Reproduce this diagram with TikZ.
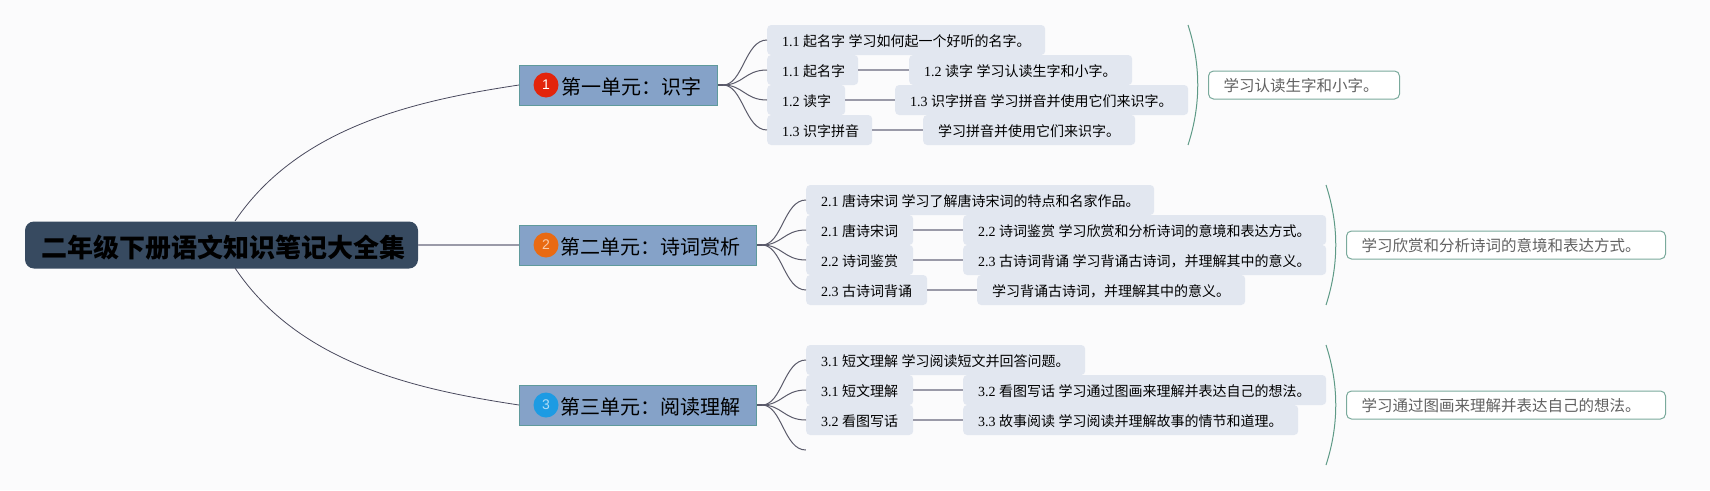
\documentclass[tikz,border=0pt]{standalone}
\usepackage{fontspec}
\setmainfont{Liberation Serif}
\newfontfamily\cjk{Noto Sans CJK SC}
\newfontfamily\digitfont{Liberation Sans}
\newcommand{\nr}[1]{{\rmfamily #1}\kern3.5pt}
\newcommand{\gap}{\kern3.5pt}
\definecolor{paper}{HTML}{FBFBFC}
\definecolor{rootfill}{HTML}{374A60}
\definecolor{unitfill}{HTML}{85A2C8}
\definecolor{unitline}{HTML}{5F9A9C}
\definecolor{leaffill}{HTML}{E2E7F0}
\definecolor{twigline}{HTML}{5A5A6A}
\definecolor{limbline}{HTML}{4A4A5E}
\definecolor{barline}{HTML}{9A9AA8}
\definecolor{arcline}{HTML}{5E9A86}
\definecolor{sumline}{HTML}{7AAA9C}
\definecolor{markred}{HTML}{E3240B}
\definecolor{markorange}{HTML}{E96A12}
\definecolor{markblue}{HTML}{1D9BE3}
\tikzset{
  rootbox/.style={fill=rootfill,rounded corners=9pt,inner sep=0pt,minimum width=393pt,minimum height=47pt,text height=24pt,text depth=0pt,font=\cjk\bfseries\fontsize{26}{30}\selectfont},
  unitbox/.style={draw=unitline,fill=unitfill,line width=1pt,anchor=west,inner xsep=16pt,inner ysep=0pt,minimum height=40pt,text width=#1,text height=19.2pt,text depth=0pt,align=right,font=\cjk\fontsize{20}{24}\selectfont},
  badge/.style={circle,fill=#1,inner sep=0pt,minimum size=25pt,text=white,text opacity=.65,font=\digitfont\fontsize{14}{16}\selectfont},
  leaf/.style={fill=leaffill,rounded corners=4pt,anchor=west,inner xsep=15pt,inner ysep=0pt,minimum height=30pt,text width=#1,text height=16pt,text depth=2.5pt,align=left,font=\cjk\fontsize{14}{16}\selectfont},
  summary/.style={draw=sumline,fill=white,line width=1pt,rounded corners=5pt,anchor=west,inner xsep=15pt,inner ysep=0pt,minimum height=28pt,text width=#1,text height=13.8pt,text depth=0pt,align=left,text=black!62,font=\cjk\fontsize{15.5}{18}\selectfont},
  twig/.style={draw=twigline,line width=1pt},
  bar/.style={draw=barline,line width=1.6pt},
  bow/.style={draw=arcline,line width=1pt},
  limb/.style={draw=limbline,line width=.8pt}
}
\begin{document}
\begin{tikzpicture}[x=1pt,y=-1pt]
  \fill[paper] (0,0) rectangle (1710,490);
  \useasboundingbox (0,0) rectangle (1710,490);

  %ROOT
  \node[rootbox] (root) at (221.5,245) {\kern3pt 二年级下册语文知识笔记大全集};
  \coordinate (rootup) at (235,221);
  \coordinate (rootdown) at (235,268);

  %UNITS
  \node[unitbox=166pt] (unit1) at (519,85) {第一单元：识字};
  \node[unitbox=205pt] (unit2) at (519,245) {第二单元：诗词赏析};
  \node[unitbox=205pt] (unit3) at (519,405) {第三单元：阅读理解};
  \node[badge=markred,text opacity=1] (mark1) at (546,85) {1};
  \node[badge=markorange] (mark2) at (546,245) {2};
  \node[badge=markblue] (mark3) at (546,405) {3};

  \draw[limb] (rootup) .. controls (300,125) and (420,100) .. (unit1.west);
  \draw[bar] (root.east) -- (unit2.west);
  \draw[limb] (rootdown) .. controls (300,365) and (420,390) .. (unit3.west);

  %UNIT 1
  \node[leaf=248pt] (a1) at (767,40) {\nr{1.1}起名字\gap 学习如何起一个好听的名字。};
  \node[leaf=61pt] (a2) at (767,70) {\nr{1.1}起名字};
  \node[leaf=48pt] (a3) at (767,100) {\nr{1.2}读字};
  \node[leaf=75pt] (a4) at (767,130) {\nr{1.3}识字拼音};
  \node[leaf=193pt] (a5) at (909,70) {\nr{1.2}读字\gap 学习认读生字和小字。};
  \node[leaf=263pt] (a6) at (895,100) {\nr{1.3}识字拼音\gap 学习拼音并使用它们来识字。};
  \node[leaf=182pt] (a7) at (923,130) {学习拼音并使用它们来识字。};
  \node[summary=161pt] (sum1) at (1208,85) {学习认读生字和小字。};

  %UNIT 2
  \node[leaf=318pt] (b1) at (806,200) {\nr{2.1}唐诗宋词\gap 学习了解唐诗宋词的特点和名家作品。};
  \node[leaf=77pt] (b2) at (806,230) {\nr{2.1}唐诗宋词};
  \node[leaf=77pt] (b3) at (806,260) {\nr{2.2}诗词鉴赏};
  \node[leaf=91pt] (b4) at (806,290) {\nr{2.3}古诗词背诵};
  \node[leaf=333pt] (b5) at (963,230) {\nr{2.2}诗词鉴赏\gap 学习欣赏和分析诗词的意境和表达方式。};
  \node[leaf=333pt] (b6) at (963,260) {\nr{2.3}古诗词背诵\gap 学习背诵古诗词，并理解其中的意义。};
  \node[leaf=238pt] (b7) at (977,290) {学习背诵古诗词，并理解其中的意义。};
  \node[summary=289pt] (sum2) at (1346,245) {学习欣赏和分析诗词的意境和表达方式。};

  %UNIT 3
  \node[leaf=249pt] (c1) at (806,360) {\nr{3.1}短文理解\gap 学习阅读短文并回答问题。};
  \node[leaf=77pt] (c2) at (806,390) {\nr{3.1}短文理解};
  \node[leaf=77pt] (c3) at (806,420) {\nr{3.2}看图写话};
  \node[inner sep=0pt,minimum size=0pt] (c4) at (806,450) {};
  \node[leaf=333pt] (c5) at (963,390) {\nr{3.2}看图写话\gap 学习通过图画来理解并表达自己的想法。};
  \node[leaf=305pt] (c6) at (963,420) {\nr{3.3}故事阅读\gap 学习阅读并理解故事的情节和道理。};
  \node[summary=289pt] (sum3) at (1346,405) {学习通过图画来理解并表达自己的想法。};

  %TWIGS
  \coordinate (hub1) at (723,85);
  \coordinate (hub2) at (762,245);
  \coordinate (hub3) at (762,405);
  \draw[bar,draw=twigline] (unit1.east) -- (hub1);
  \draw[bar,draw=twigline] (unit2.east) -- (hub2);
  \draw[bar,draw=twigline] (unit3.east) -- (hub3);
  \foreach \n in {a1,a2,a3,a4}
    \draw[twig] (hub1) .. controls +(20,0) and +(-22,0) .. (\n.west);
  \foreach \n in {b1,b2,b3,b4}
    \draw[twig] (hub2) .. controls +(20,0) and +(-22,0) .. (\n.west);
  \foreach \n in {c1,c2,c3,c4}
    \draw[twig] (hub3) .. controls +(20,0) and +(-22,0) .. (\n.west);

  %BARS
  \draw[bar] (a2.east) -- (a5.west);
  \draw[bar] (a3.east) -- (a6.west);
  \draw[bar] (a4.east) -- (a7.west);
  \draw[bar] (b2.east) -- (b5.west);
  \draw[bar] (b3.east) -- (b6.west);
  \draw[bar] (b4.east) -- (b7.west);
  \draw[bar] (c2.east) -- (c5.west);
  \draw[bar] (c3.east) -- (c6.west);

  %BOWS
  \coordinate (top1) at (1188,25);
  \coordinate (low1) at (1188,145);
  \coordinate (top2) at (1326,185);
  \coordinate (low2) at (1326,305);
  \coordinate (top3) at (1326,345);
  \coordinate (low3) at (1326,465);
  \draw[bow] (top1) .. controls +(13,40) and +(13,-40) .. (low1);
  \draw[bow] (top2) .. controls +(13,40) and +(13,-40) .. (low2);
  \draw[bow] (top3) .. controls +(13,40) and +(13,-40) .. (low3);
\end{tikzpicture}
\end{document}
